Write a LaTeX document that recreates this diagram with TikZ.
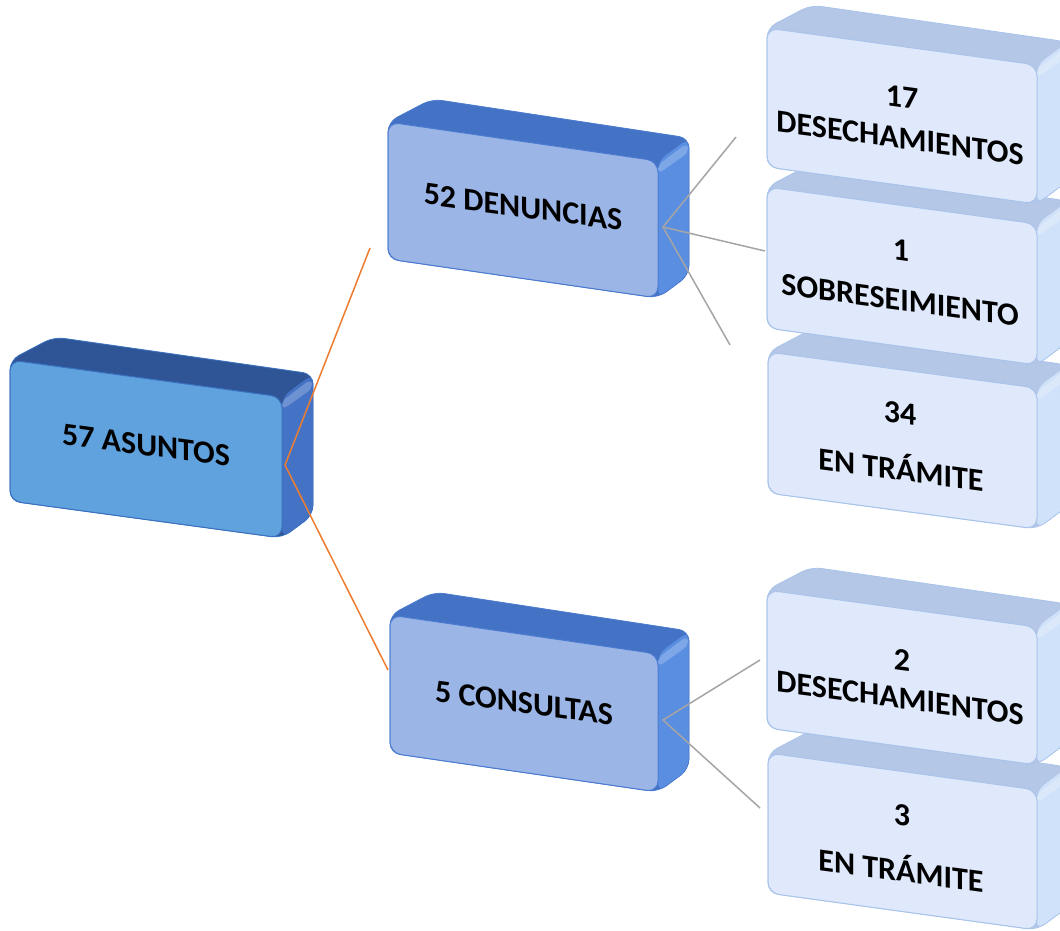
\documentclass[tikz,border=0pt]{standalone}
\usepackage{fontspec}
\setmainfont{Carlito}
\definecolor{aFront}{HTML}{5FA2DD}
\definecolor{aTop}{HTML}{2F5597}
\definecolor{aSide}{HTML}{4472C4}
\definecolor{aLine}{HTML}{3A70C0}
\definecolor{bFront}{HTML}{9BB5E6}
\definecolor{bTop}{HTML}{4472C4}
\definecolor{bSide}{HTML}{5A8EE0}
\definecolor{bLine}{HTML}{4A7BD0}
\definecolor{cFront}{HTML}{DFE9FB}
\definecolor{cTop}{HTML}{B4C7E7}
\definecolor{cSide}{HTML}{CFE2F9}
\definecolor{cLine}{HTML}{A9C4EB}
\definecolor{orangeLink}{HTML}{ED7D31}
\definecolor{grayLink}{HTML}{A5A5A5}
% #1 x, #2 y (front top-left), #3 width, #4 height, #5 skew, #6 front, #7 top, #8 side, #9 line
\newcommand{\tdbox}[9]{%
\begin{scope}[shift={(#1,#2)}]
\fill[#7, rounded corners=10] (0,0) -- (44,-23) -- ({#3+31},{#5-23}) -- ({#3+31},{#5+#4-23}) -- (#3,{#5+#4}) -- (0,#4) -- cycle;
\fill[#8, rounded corners=9] (#3,#5) -- ({#3+31},{#5-23}) -- ({#3+31},{#5+#4-23}) -- (#3,{#5+#4}) -- cycle;
\fill[#8!78!white, rounded corners=6] (#3,{#5+4}) -- ({#3+29},{#5-18}) -- ({#3+31},{#5-9}) -- (#3,{#5+13}) -- cycle;
\draw[#9, line width=0.8pt, rounded corners=10] (0,0) -- (44,-23) -- ({#3+31},{#5-23}) -- ({#3+31},{#5+#4-23}) -- (#3,{#5+#4}) -- (0,#4) -- cycle;
\filldraw[fill=#6, draw=#9, line width=1pt, rounded corners=11] (0,0) -- (#3,#5) -- (#3,{#5+#4}) -- (0,#4) -- cycle;
\end{scope}}
\tikzset{
  lbl/.style={font=\fontsize{32}{36}\selectfont\bfseries, text=black, inner sep=0pt, yslant=-0.135, anchor=center},
  orangelink/.style={draw=orangeLink, line width=1.5pt},
  graylink/.style={draw=grayLink, line width=1.5pt}
}
\begin{document}
\begin{tikzpicture}[x=1pt, y=-1pt]
\useasboundingbox (0,0) rectangle (1060,930);
\clip (0,0) rectangle (1060,930);
\fill[white] (0,0) rectangle (1060,930);
% left column
\tdbox{10}{360}{272}{141}{37}{aFront}{aTop}{aSide}{aLine}
\tdbox{388}{122}{270}{137}{39}{bFront}{bTop}{bSide}{bLine}
\tdbox{390}{615}{268}{138}{39}{bFront}{bTop}{bSide}{bLine}
% right column, lower boxes first
\tdbox{768}{753}{269}{140}{37}{cFront}{cTop}{cSide}{cLine}
\tdbox{767}{590}{270}{138}{37}{cFront}{cTop}{cSide}{cLine}
\tdbox{768}{352}{269}{141}{36}{cFront}{cTop}{cSide}{cLine}
\tdbox{767}{187}{270}{141}{37}{cFront}{cTop}{cSide}{cLine}
\tdbox{767}{28}{270}{139}{37}{cFront}{cTop}{cSide}{cLine}
% labels
\node[lbl] (asT) at (146,445) {57 ASUNTOS};
\node[lbl] (denT) at (523,207) {52 DENUNCIAS};
\node[lbl] (conT) at (524,703) {5 CONSULTAS};
\node[lbl] (d17a) at (902,97) {17};
\node[lbl] (d17b) at (900,138) {DESECHAMIENTOS};
\node[lbl] (s1a) at (901,250) {1};
\node[lbl] (s1b) at (900,300) {SOBRESEIMIENTO};
\node[lbl] (t34a) at (900,413) {34};
\node[lbl] (t34b) at (901,467) {EN TRÁMITE};
\node[lbl] (d2a) at (902,660) {2};
\node[lbl] (d2b) at (900,698) {DESECHAMIENTOS};
\node[lbl] (t3a) at (902,815) {3};
\node[lbl] (t3b) at (901,868) {EN TRÁMITE};
% connector points
\coordinate (asR) at (285,465);
\coordinate (denL) at (370,248);
\coordinate (conL) at (388,670);
\coordinate (denR) at (663,227);
\coordinate (d17L) at (736,137);
\coordinate (s1L) at (765,251);
\coordinate (t34L) at (730,345);
\coordinate (conR) at (663,720);
\coordinate (d2L) at (760,660);
\coordinate (t3L) at (760,808);
\draw[orangelink] (denL) -- (asR) -- (conL);
\draw[graylink] (d17L) -- (denR) -- (t34L);
\draw[graylink] (denR) -- (s1L);
\draw[graylink] (d2L) -- (conR) -- (t3L);
\end{tikzpicture}
\end{document}
